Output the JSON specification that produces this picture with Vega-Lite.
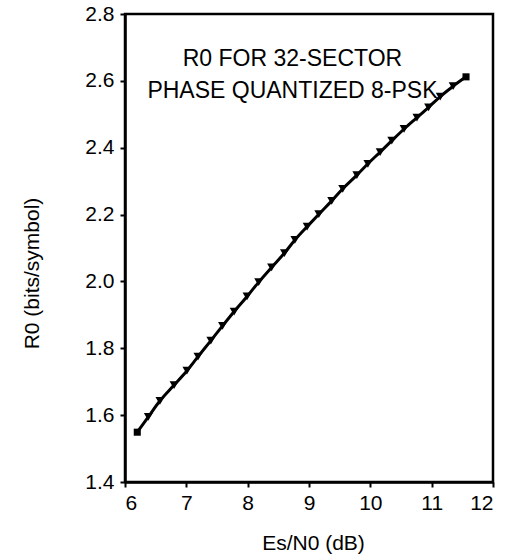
{
  "$schema": "https://vega.github.io/schema/vega-lite/v6.json",
  "width": 368,
  "height": 468,
  "autosize": "none",
  "padding": {"left": 125, "top": 14, "right": 23, "bottom": 76},
  "background": "white",
  "datasets": {
    "r0": [
      {"esn0": 6.20, "r0": 1.549},
      {"esn0": 6.38, "r0": 1.595},
      {"esn0": 6.57, "r0": 1.643},
      {"esn0": 6.80, "r0": 1.690},
      {"esn0": 7.01, "r0": 1.733},
      {"esn0": 7.19, "r0": 1.775},
      {"esn0": 7.40, "r0": 1.823},
      {"esn0": 7.59, "r0": 1.867},
      {"esn0": 7.78, "r0": 1.910},
      {"esn0": 7.99, "r0": 1.955},
      {"esn0": 8.18, "r0": 1.998},
      {"esn0": 8.39, "r0": 2.042},
      {"esn0": 8.60, "r0": 2.085},
      {"esn0": 8.77, "r0": 2.124},
      {"esn0": 8.97, "r0": 2.164},
      {"esn0": 9.16, "r0": 2.201},
      {"esn0": 9.37, "r0": 2.241},
      {"esn0": 9.55, "r0": 2.277},
      {"esn0": 9.78, "r0": 2.318},
      {"esn0": 9.96, "r0": 2.352},
      {"esn0": 10.16, "r0": 2.387},
      {"esn0": 10.35, "r0": 2.421},
      {"esn0": 10.55, "r0": 2.456},
      {"esn0": 10.76, "r0": 2.490},
      {"esn0": 10.95, "r0": 2.521},
      {"esn0": 11.14, "r0": 2.553},
      {"esn0": 11.35, "r0": 2.584},
      {"esn0": 11.56, "r0": 2.612}
    ],
    "note": [
      {"label": "R0 FOR 32-SECTOR\nPHASE QUANTIZED 8-PSK"}
    ]
  },
  "layer": [
    {
      "data": {"name": "r0"},
      "mark": {"type": "line", "color": "black", "strokeWidth": 3, "interpolate": "monotone"},
      "encoding": {
        "x": {
          "field": "esn0", "type": "quantitative",
          "scale": {"domain": [6, 12], "nice": false},
          "title": "Es/N0 (dB)",
          "axis": {
            "values": [6, 6.5, 7, 7.5, 8, 8.5, 9, 9.5, 10, 10.5, 11, 11.5, 12],
            "labelExpr": "datum.value % 1 == 0 ? format(datum.value, 'd') : ''",
            "titleX": 188, "titleY": 61, "titleBaseline": "middle"
          }
        },
        "y": {
          "field": "r0", "type": "quantitative",
          "scale": {"domain": [1.4, 2.8], "nice": false, "zero": false},
          "title": "R0 (bits/symbol)",
          "axis": {
            "values": [1.4, 1.5, 1.6, 1.7, 1.8, 1.9, 2.0, 2.1, 2.2, 2.3, 2.4, 2.5, 2.6, 2.7, 2.8],
            "labelExpr": "round(datum.value * 10) % 2 == 0 ? format(datum.value, '.1f') : ''",
            "titleX": -93, "titleY": 259, "titleBaseline": "middle"
          }
        }
      }
    },
    {
      "data": {"name": "r0"},
      "transform": [{"filter": "datum.esn0 > 6.3 && datum.esn0 < 11.5"}],
      "mark": {"type": "point", "shape": "triangle-down", "filled": true, "color": "black", "size": 80, "opacity": 1},
      "encoding": {
        "x": {"field": "esn0", "type": "quantitative"},
        "y": {"field": "r0", "type": "quantitative"}
      }
    },
    {
      "data": {"name": "r0"},
      "transform": [{"filter": "datum.esn0 < 6.3 || datum.esn0 > 11.5"}],
      "mark": {"type": "square", "filled": true, "color": "black", "size": 50, "opacity": 1},
      "encoding": {
        "x": {"field": "esn0", "type": "quantitative"},
        "y": {"field": "r0", "type": "quantitative"}
      }
    },
    {
      "data": {"name": "note"},
      "mark": {
        "type": "text", "lineBreak": "\n", "align": "center", "baseline": "middle",
        "font": "Liberation Sans", "fontSize": 23, "lineHeight": 32, "color": "black"
      },
      "encoding": {
        "x": {"datum": 8.73, "type": "quantitative"},
        "y": {"datum": 2.665, "type": "quantitative"},
        "text": {"field": "label", "type": "nominal"}
      }
    }
  ],
  "config": {
    "view": {"stroke": "black", "strokeWidth": 2.5},
    "axis": {
      "grid": false,
      "domainColor": "black",
      "domainWidth": 2.5,
      "tickColor": "black",
      "tickWidth": 2,
      "tickSize": 5,
      "labelFont": "Liberation Sans",
      "labelFontSize": 21,
      "labelColor": "black",
      "titleFont": "Liberation Sans",
      "titleFontSize": 21,
      "titleFontWeight": "normal",
      "titleColor": "black"
    },
    "axisX": {"labelPadding": 5},
    "axisY": {"labelPadding": 6}
  }
}
